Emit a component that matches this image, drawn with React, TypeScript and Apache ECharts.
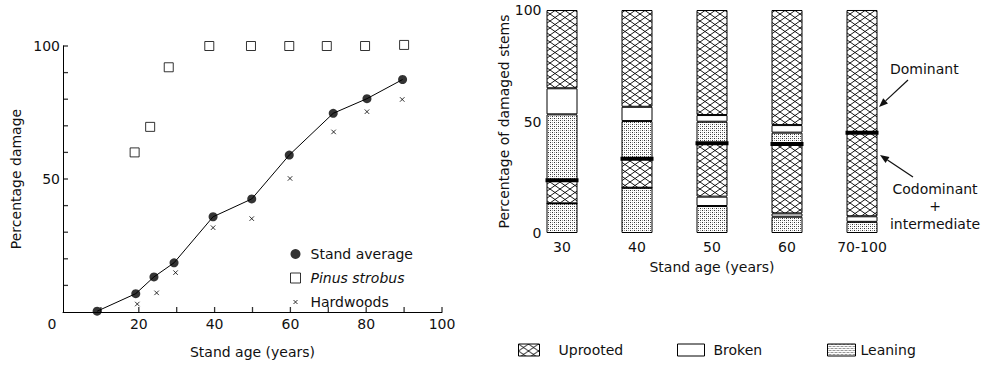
import React, { useEffect, useRef } from "react";
import * as echarts from "echarts";

// ---------- Left chart data ----------
const ageAverage = [9, 19.2, 24, 29.3, 39.6, 49.8, 59.7, 71.3, 80.2, 89.6];
const damageAverage = [0.3, 6.9, 13.2, 18.5, 35.8, 42.5, 59, 74.7, 80.2, 87.4];
const agePinus = [18.9, 23, 27.9, 38.6, 49.6, 59.7, 69.6, 79.7, 90];
const damagePinus = [60, 69.6, 92, 100, 100, 100, 100, 100, 100.4];
const ageHardwoods = [19.6, 24.7, 29.7, 39.6, 49.8, 59.9, 71.4, 80.2, 89.5];
const damageHardwoods = [3, 7.2, 14.8, 31.7, 35.1, 50.2, 67.7, 75.3, 79.9];
const leftXLabels = [0, 20, 40, 60, 80, 100];
const leftYLabels = [50, 100];
const leftXTicks = [10, 20, 30, 40, 50, 60, 70, 80, 90, 100];
const leftYTicks = [10, 20, 30, 40, 50, 60, 70, 80, 90, 100];
const leftLegend = ["Stand average", "Pinus strobus", "Hardwoods"];

// ---------- Right chart data ----------
const standAges = ["30", "40", "50", "60", "70-100"];
// codominant + intermediate (lower part of each bar)
const codLeaning = [13.3, 20.3, 12.1, 7.3, 5];
const codBroken = [0, 0, 4.2, 1.5, 2.5];
const codUprooted = [10.3, 13, 23.9, 31.1, 37.5];
// dominant (upper part of each bar)
const domLeaning = [29.6, 16.9, 9.7, 5.1, 0];
const domBroken = [11.7, 6.4, 3.0, 3.4, 0];
const domUprooted = [35.1, 43.4, 47.1, 51.6, 55];
const rightYLabels = [0, 50, 100];
const damageTypes = ["Uprooted", "Broken", "Leaning"];

const FONT = "DejaVu Sans";
const INK = "#111";

function crosshatchCanvas() {
  const w = 10, h = 7;
  const c = document.createElement("canvas");
  c.width = w; c.height = h;
  const g = c.getContext("2d")!;
  g.fillStyle = "#fff";
  g.fillRect(0, 0, w, h);
  g.strokeStyle = "#000";
  g.lineWidth = 0.9;
  g.beginPath();
  for (const dx of [-w, 0, w]) {
    for (const dy of [-h, 0, h]) {
      g.moveTo(dx, dy); g.lineTo(dx + w, dy + h);
      g.moveTo(dx + w, dy); g.lineTo(dx, dy + h);
    }
  }
  g.stroke();
  return c;
}

function stippleCanvas() {
  const c = document.createElement("canvas");
  c.width = 4; c.height = 4;
  const g = c.getContext("2d")!;
  g.fillStyle = "#fff";
  g.fillRect(0, 0, 4, 4);
  g.fillStyle = "#333";
  g.fillRect(0, 0, 1, 1);
  g.fillRect(2, 2, 1, 1);
  g.fillStyle = "#999";
  g.fillRect(2, 0, 1, 1);
  g.fillRect(0, 2, 1, 1);
  return c;
}

function arrow(from: number[], tip: number[]) {
  const dx = tip[0] - from[0], dy = tip[1] - from[1];
  const len = Math.hypot(dx, dy);
  const ux = dx / len, uy = dy / len;
  const hl = 9, hw = 3.5;
  const bx = tip[0] - ux * hl, by = tip[1] - uy * hl;
  return [
    { type: "line", shape: { x1: from[0], y1: from[1], x2: bx, y2: by }, style: { stroke: INK, lineWidth: 1.2 } },
    {
      type: "polygon",
      shape: { points: [[tip[0], tip[1]], [bx - uy * hw, by + ux * hw], [bx + uy * hw, by - ux * hw]] },
      style: { fill: INK },
    },
  ];
}

export default function App() {
  const ref = useRef<HTMLDivElement>(null);
  useEffect(() => {
    if (!ref.current) return;
    const chart = echarts.init(ref.current, null, { renderer: "svg" });
    const hatch = { image: crosshatchCanvas(), repeat: "repeat", imageWidth: 10, imageHeight: 7 };
    const dots = { image: stippleCanvas(), repeat: "repeat", imageWidth: 4, imageHeight: 4 };
    const fills: Record<string, any> = { Uprooted: hatch, Broken: "#fff", Leaning: dots };

    const codTotals = standAges.map((_, i) => codLeaning[i] + codBroken[i] + codUprooted[i]);

    const barSeries = (name: string, data: number[]) => ({
      type: "bar",
      name,
      xAxisIndex: 1,
      yAxisIndex: 1,
      stack: "total",
      barWidth: 31,
      data,
      itemStyle: { color: fills[name], borderColor: "#000", borderWidth: 1 },
      emphasis: { disabled: true },
    });

    const textStyle = { fontFamily: FONT, fontSize: 14, color: INK };

    const option: any = {
      animation: false,
      textStyle: { fontFamily: FONT },
      grid: [
        { left: 63, right: 546, top: 46, bottom: 55 },
        { left: 524.5, right: 88.5, top: 10, bottom: 134 },
      ],
      xAxis: [
        {
          type: "value",
          gridIndex: 0,
          min: 0,
          max: 100,
          interval: 10,
          name: "Stand age (years)",
          nameLocation: "middle",
          nameGap: 33,
          nameTextStyle: textStyle,
          axisLine: { show: true, lineStyle: { color: "#000", width: 1 } },
          axisTick: { show: false },
          splitLine: { show: false },
          axisLabel: {
            ...textStyle,
            margin: 5,
            formatter: (v: number) =>
              leftXLabels.includes(v) ? (v === 0 ? "{z|0}" : String(v)) : "",
            rich: { z: { ...textStyle, padding: [0, 22, 0, 0] } },
          },
        },
        {
          type: "category",
          gridIndex: 1,
          data: standAges,
          name: "Stand age (years)",
          nameLocation: "middle",
          nameGap: 27,
          nameTextStyle: textStyle,
          axisLine: { show: false },
          axisTick: { show: false },
          axisLabel: { ...textStyle, margin: 7 },
        },
      ],
      yAxis: [
        {
          type: "value",
          gridIndex: 0,
          min: 0,
          max: 100,
          interval: 10,
          name: "Percentage damage",
          nameLocation: "middle",
          nameGap: 40,
          nameTextStyle: textStyle,
          axisLine: { show: true, lineStyle: { color: "#000", width: 1 } },
          axisTick: { show: false },
          splitLine: { show: false },
          axisLabel: {
            ...textStyle,
            margin: 3,
            formatter: (v: number) => (leftYLabels.includes(v) ? String(v) : ""),
          },
        },
        {
          type: "value",
          gridIndex: 1,
          min: 0,
          max: 100,
          interval: 50,
          offset: -19,
          name: "Percentage of damaged stems",
          nameLocation: "middle",
          nameGap: 31,
          nameTextStyle: textStyle,
          axisLine: { show: false },
          axisTick: { show: false },
          splitLine: { show: false },
          axisLabel: {
            ...textStyle,
            margin: 2,
            formatter: (v: number) => (rightYLabels.includes(v) ? String(v) : ""),
          },
        },
      ],
      legend: [
        {
          orient: "vertical",
          left: 285,
          top: 241,
          itemWidth: 10,
          itemHeight: 10,
          itemGap: 8,
          selectedMode: false,
          data: [
            { name: leftLegend[0], icon: "circle", itemStyle: { color: "#000", borderWidth: 0 } },
            { name: leftLegend[1], icon: "rect", itemStyle: { color: "#fff", borderColor: "#000", borderWidth: 1 } },
            {
              name: leftLegend[2],
              icon: "path://M0,0M10,10M3,3L7,7M7,3L3,7",
              itemStyle: { color: "transparent", borderColor: "#000", borderWidth: 1 },
            },
          ],
          formatter: (n: string) => (n === "Pinus strobus" ? "{i|" + n + "}" : n),
          textStyle: {
            ...textStyle,
            lineHeight: 16,
            padding: [0, 0, 0, 5],
            rich: { i: { ...textStyle, fontStyle: "italic" } },
          },
        },
        ...damageTypes.map((name, k) => ({
          orient: "horizontal",
          left: [513, 672, 822][k],
          top: 338,
          itemWidth: [21, 27, 28][k],
          itemHeight: 12,
          icon: "rect",
          selectedMode: false,
          data: [name],
          itemStyle: { borderColor: "#000", borderWidth: 1 },
          textStyle: { ...textStyle, padding: [0, 0, 0, [14, 4, 0][k]] },
        })),
      ],
      series: [
        {
          type: "scatter",
          name: "xTicks",
          xAxisIndex: 0,
          yAxisIndex: 0,
          clip: false,
          silent: true,
          symbol: "rect",
          symbolSize: [1.3, 5],
          symbolOffset: [0, -2.5],
          itemStyle: { color: "#000" },
          data: leftXTicks.map((v) => [v, 0]),
          z: 6,
        },
        {
          type: "scatter",
          name: "yTicks",
          xAxisIndex: 0,
          yAxisIndex: 0,
          clip: false,
          silent: true,
          symbol: "rect",
          symbolSize: [5, 1.3],
          symbolOffset: [2.5, 0],
          itemStyle: { color: "#000" },
          data: leftYTicks.map((v) => [0, v]),
          z: 6,
        },
        {
          type: "line",
          name: "avgLine",
          xAxisIndex: 0,
          yAxisIndex: 0,
          data: ageAverage.map((x, i) => [x, damageAverage[i]]),
          symbol: "none",
          lineStyle: { color: "#000", width: 1 },
          silent: true,
        },
        {
          type: "scatter",
          name: "Stand average",
          xAxisIndex: 0,
          yAxisIndex: 0,
          clip: false,
          symbol: "circle",
          symbolSize: 9,
          itemStyle: { color: "#000" },
          data: ageAverage.map((x, i) => [x, damageAverage[i]]),
          z: 3,
        },
        {
          type: "scatter",
          name: "Pinus strobus",
          xAxisIndex: 0,
          yAxisIndex: 0,
          clip: false,
          symbol: "rect",
          symbolSize: 9,
          itemStyle: { color: "#fff", borderColor: "#000", borderWidth: 1 },
          data: agePinus.map((x, i) => [x, damagePinus[i]]),
        },
        {
          type: "scatter",
          name: "Hardwoods",
          xAxisIndex: 0,
          yAxisIndex: 0,
          clip: false,
          symbol: "path://M0,0L10,10M10,0L0,10",
          symbolSize: 4.5,
          itemStyle: { color: "transparent", borderColor: "#000", borderWidth: 1 },
          data: ageHardwoods.map((x, i) => [x, damageHardwoods[i]]),
        },
        barSeries("Leaning", codLeaning),
        barSeries("Broken", codBroken),
        barSeries("Uprooted", codUprooted),
        barSeries("Leaning", domLeaning),
        barSeries("Broken", domBroken),
        barSeries("Uprooted", domUprooted),
        {
          type: "custom",
          name: "divider",
          xAxisIndex: 1,
          yAxisIndex: 1,
          z: 10,
          data: codTotals.map((v, i) => [i, v]),
          encode: { x: 0, y: 1 },
          renderItem: (_p: any, api: any) => {
            const c = api.coord([api.value(0), api.value(1)]);
            const bw = 31;
            return {
              type: "rect",
              shape: { x: c[0] - bw / 2 - 1, y: c[1] - 2, width: bw + 2, height: 4 },
              style: { fill: "#000" },
            };
          },
        },
      ],
      graphic: [
        { type: "text", left: 890, top: 62, style: { text: "Dominant", fill: INK, font: `14px "${FONT}"` } },
        {
          type: "text",
          x: 935,
          y: 180,
          style: {
            text: "Codominant\n+\nintermediate",
            fill: INK,
            font: `14px "${FONT}"`,
            align: "center",
            verticalAlign: "top",
            lineHeight: 17.5,
          },
        },
        ...arrow([908, 80], [879, 107]),
        ...arrow([913, 177], [880, 155]),
      ],
    };
    chart.setOption(option);
    return () => chart.dispose();
  }, []);
  return (
    <div
      ref={ref}
      style={{ position: "fixed", left: 0, top: 0, width: 988, height: 367, background: "#fff" }}
    />
  );
}
